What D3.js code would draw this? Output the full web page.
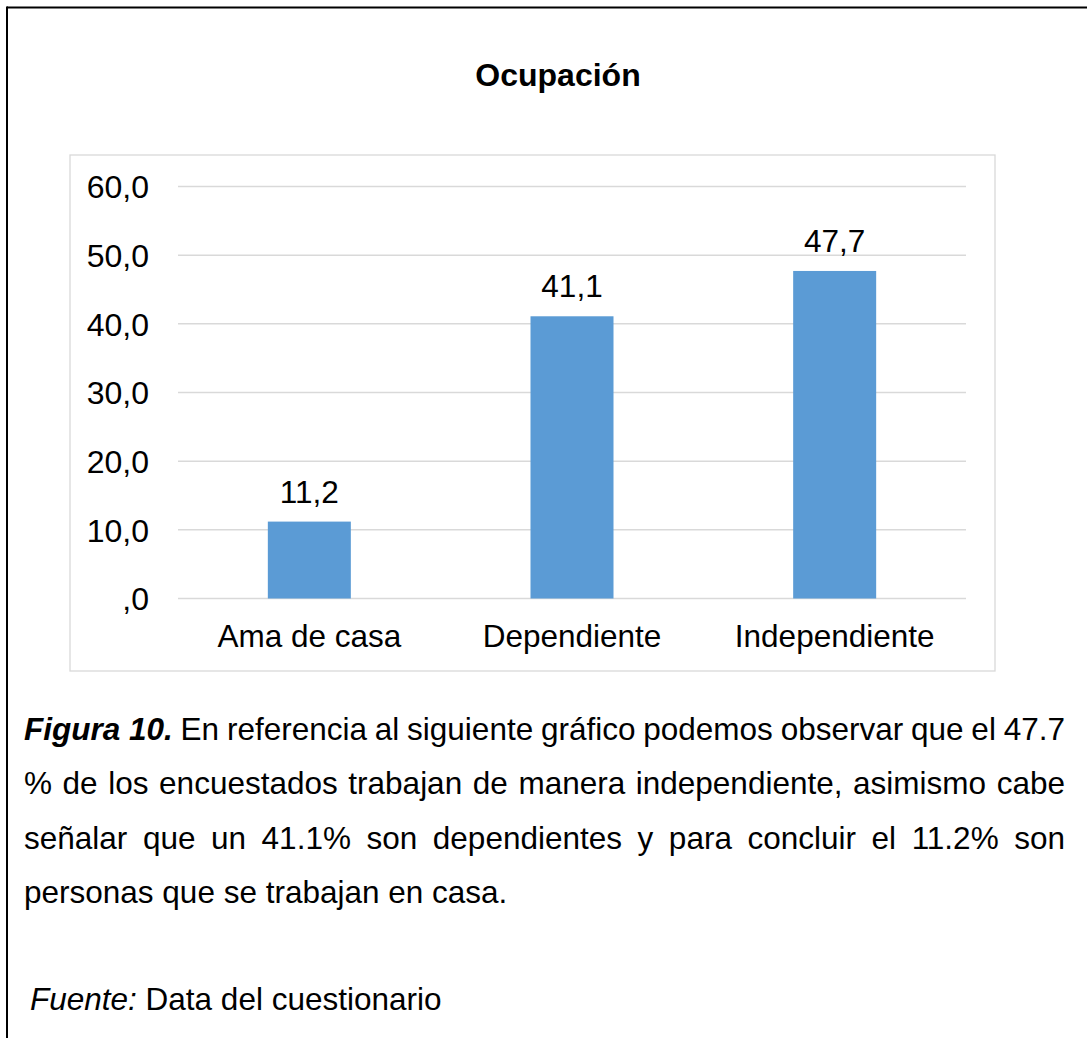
<!DOCTYPE html>
<html>
<head>
<meta charset="utf-8">
<script src="https://cdn.jsdelivr.net/npm/d3@7"></script>
<style>
  html, body { margin: 0; padding: 0; background: #fff; }
  svg { display: block; }
  text { font-family: "Liberation Sans", Arial, sans-serif; fill: #000; }
</style>
</head>
<body>
<svg id="chart" width="1087" height="1038"></svg>
<script>
const title = "Ocupación";
const categories = ["Ama de casa", "Dependiente", "Independiente"];
const values = [11.2, 41.1, 47.7];
const yTicks = [0, 10, 20, 30, 40, 50, 60];
const captionLines = [
  "En referencia al siguiente gráfico podemos observar que el 47.7",
  "% de los encuestados trabajan de manera independiente, asimismo cabe",
  "señalar que un 41.1% son dependientes y para concluir el 11.2% son",
  "personas que se trabajan en casa."
];
const captionLead = "Figura 10.";
const sourceLabel = "Fuente:";
const sourceText = " Data del cuestionario";

const FF = "'Liberation Sans', Arial, sans-serif";
const svg = d3.select("#chart");

// outer page border (left and top)
svg.append("line").attr("x1", 7).attr("x2", 1087).attr("y1", 7.5).attr("y2", 7.5)
  .attr("stroke", "#000").attr("stroke-width", 2);
svg.append("line").attr("x1", 7).attr("x2", 7).attr("y1", 6.5).attr("y2", 1038)
  .attr("stroke", "#000").attr("stroke-width", 2);

// chart frame
svg.append("rect").attr("x", 70).attr("y", 155).attr("width", 925).attr("height", 516)
  .attr("fill", "#fff").attr("stroke", "#d9d9d9").attr("stroke-width", 1.3);

// title
svg.append("text").attr("x", 558).attr("y", 86).attr("text-anchor", "middle")
  .attr("font-size", 32).attr("font-weight", "bold").text(title);

const x = d3.scaleBand().domain(categories).range([178, 966])
  .paddingInner(0.684).paddingOuter(0.342);
const y = d3.scaleLinear().domain([0, 60]).range([598.5, 186.5]);

const fmt = v => v === 0 ? ",0" : d3.format(".1f")(v).replace(".", ",");

// gridlines
svg.append("g").selectAll("line").data(yTicks).join("line")
  .attr("x1", 178).attr("x2", 966)
  .attr("y1", d => y(d)).attr("y2", d => y(d))
  .attr("stroke", "#d9d9d9").attr("stroke-width", 1.5);

// y axis labels
const yAxis = d3.axisLeft(y).tickValues(yTicks).tickFormat(fmt).tickSize(0).tickPadding(0);
const gy = svg.append("g").attr("transform", "translate(149,0)").call(yAxis);
gy.select(".domain").remove();
gy.selectAll("text").attr("font-size", 32).attr("font-family", FF)
  .attr("fill", "#000").attr("dy", "0.35em");

// bars
svg.append("g").selectAll("rect").data(values).join("rect")
  .attr("x", (d, i) => x(categories[i]))
  .attr("width", x.bandwidth())
  .attr("y", d => y(d))
  .attr("height", d => y(0) - y(d))
  .attr("fill", "#5b9bd5");

// data labels
svg.append("g").selectAll("text").data(values).join("text")
  .attr("x", (d, i) => x(categories[i]) + x.bandwidth() / 2)
  .attr("y", d => y(d) - 19)
  .attr("text-anchor", "middle").attr("font-size", 31.5)
  .text(d => fmt(d));

// x axis labels
const xAxis = d3.axisBottom(x).tickSize(0).tickPadding(0);
const gx = svg.append("g").attr("transform", "translate(0,646.5)").call(xAxis);
gx.select(".domain").remove();
gx.selectAll("text").attr("font-size", 31.5).attr("font-family", FF)
  .attr("fill", "#000").attr("dy", 0);

// caption paragraph (justified lines)
const capFont = 31.5;
const left = 24, right = 1065;
const baselines = [739.5, 794, 848.5, 903];

function measure(str, opts) {
  const t = svg.append("text").attr("font-size", capFont).attr("x", -9999).attr("y", -9999)
    .attr("xml:space", "preserve").style("white-space", "pre");
  if (opts && opts.bold) t.attr("font-weight", "bold");
  if (opts && opts.italic) t.attr("font-style", "italic");
  t.text(str);
  const w = t.node().getComputedTextLength();
  t.remove();
  return w;
}

captionLines.forEach((line, li) => {
  const tokens = [];
  if (li === 0) tokens.push({ s: captionLead, bold: true, italic: true });
  line.split(" ").forEach(w => tokens.push({ s: w }));
  const widths = tokens.map(t => measure(t.s, t));
  const total = d3.sum(widths);
  const gaps = tokens.length - 1;
  const natSpace = measure("a a") - measure("aa");
  const justify = li < captionLines.length - 1;
  const space = justify ? (right - left - total) / gaps : natSpace;
  let cx = left;
  tokens.forEach((t, i) => {
    const el = svg.append("text").attr("x", cx).attr("y", baselines[li])
      .attr("font-size", capFont).text(t.s);
    if (t.bold) el.attr("font-weight", "bold");
    if (t.italic) el.attr("font-style", "italic");
    cx += widths[i] + space;
  });
});

// source line
const src = svg.append("text").attr("x", 30).attr("y", 1010).attr("font-size", capFont)
  .attr("xml:space", "preserve").style("white-space", "pre");
src.append("tspan").attr("font-style", "italic").text(sourceLabel);
src.append("tspan").text(sourceText);
</script>
</body>
</html>
